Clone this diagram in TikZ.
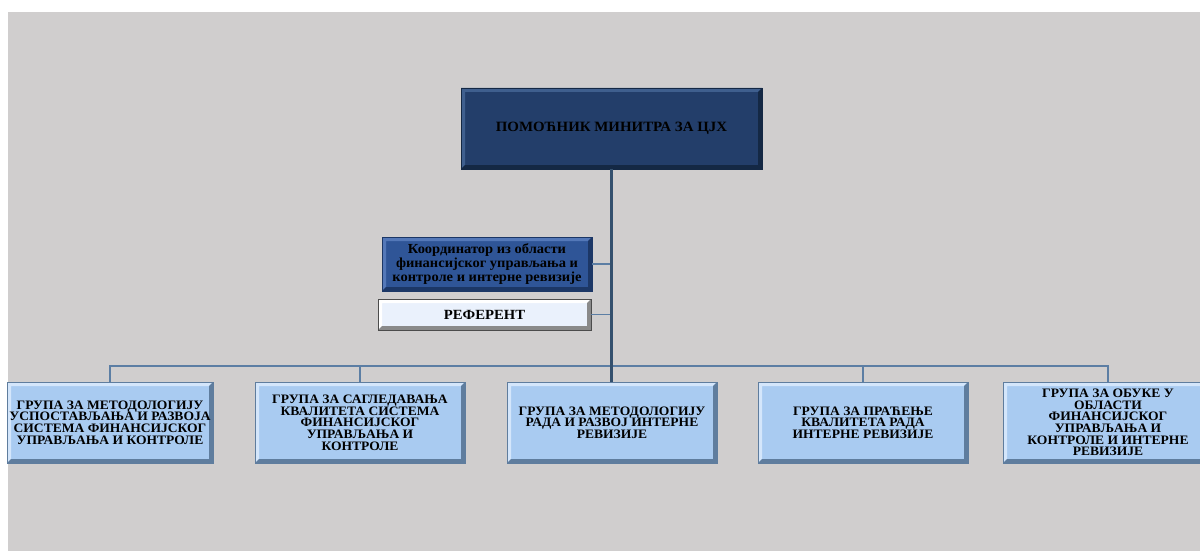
\documentclass[tikz,border=0pt]{standalone}
\usepackage{fontspec}
\setmainfont[FakeStretch=1.05]{Liberation Serif}
\usetikzlibrary{calc}
\definecolor{bggray}{HTML}{D0CECE}
\definecolor{navy}{HTML}{233E6A}
\definecolor{navyhi}{HTML}{3F5F8E}
\definecolor{navylo}{HTML}{142844}
\definecolor{midblue}{HTML}{2F5597}
\definecolor{midhi}{HTML}{5478B8}
\definecolor{midlo}{HTML}{1C3766}
\definecolor{paleblue}{HTML}{EAF1FC}
\definecolor{palehi}{HTML}{FFFFFF}
\definecolor{palelo}{HTML}{8A8A8A}
\definecolor{ltblue}{HTML}{A9CBF1}
\definecolor{lthi}{HTML}{D4E6FB}
\definecolor{ltlo}{HTML}{5F7D9E}
\definecolor{trunk}{HTML}{34506E}
\definecolor{branch}{HTML}{5C7EA4}
\tikzset{
  bevelbox/.style n args={4}{rectangle, fill=#1, draw=#4, line width=0.8pt,
    inner sep=0pt, align=center, font=\bfseries\fontsize{12.9}{11.7}\selectfont,
    path picture={
      \coordinate (pnw) at (path picture bounding box.north west);
      \coordinate (pne) at (path picture bounding box.north east);
      \coordinate (psw) at (path picture bounding box.south west);
      \coordinate (pse) at (path picture bounding box.south east);
      \fill[#2] (pnw) -- (pne) -- ([shift={(-4pt,-4pt)}]pne) -- ([shift={(4pt,-4pt)}]pnw)
        -- ([shift={(4pt,4pt)}]psw) -- (psw) -- cycle;
      \fill[#3] (pse) -- (pne) -- ([shift={(-4pt,-4pt)}]pne) -- ([shift={(-4pt,4pt)}]pse)
        -- ([shift={(4pt,4pt)}]psw) -- (psw) -- cycle;
    }},
  topbox/.style={bevelbox={navy}{navyhi}{navylo}{navylo}, minimum width=301pt, minimum height=81pt,
    font=\bfseries\fontsize{14.2}{14}\selectfont},
  coordbox/.style={bevelbox={midblue}{midhi}{midlo}{midlo}, minimum width=210pt, minimum height=54pt,
    font=\bfseries\fontsize{13.8}{12.3}\selectfont},
  refbox/.style={bevelbox={paleblue}{palehi}{palelo}{black!70}, minimum width=213pt, minimum height=31pt,
    font=\bfseries\fontsize{14}{13}\selectfont},
  groupbox/.style={bevelbox={ltblue}{lthi}{ltlo}{ltlo}, minimum width=210pt, minimum height=81pt},
  trunkline/.style={draw=trunk, line width=3pt},
  branchline/.style={draw=branch, line width=1.5pt},
}
\begin{document}
\begin{tikzpicture}[x=1pt,y=-1pt]
\useasboundingbox (0,0) rectangle (1200,551);
\fill[bggray] (8,12) rectangle (1200,551);
% nodes
\node[topbox] (top) at (611.5,128.5) {ПОМОЋНИК МИНИТРА ЗА ЦЈХ};
\node[coordbox] (coord) at (487,264) {Координатор из области\\финансијског управљања и\\контроле и интерне ревизије};
\node[refbox] (ref) at (484.5,314.5) {РЕФЕРЕНТ};
\node[groupbox, minimum width=206pt] (g1) at (110,422.5) {ГРУПА ЗА МЕТОДОЛОГИЈУ\\УСПОСТАВЉАЊА И РАЗВОЈА\\СИСТЕМА ФИНАНСИЈСКОГ\\УПРАВЉАЊА И КОНТРОЛЕ};
\node[groupbox] (g2) at (360,422.5) {ГРУПА ЗА САГЛЕДАВАЊА\\КВАЛИТЕТА СИСТЕМА\\ФИНАНСИЈСКОГ\\УПРАВЉАЊА И\\КОНТРОЛЕ};
\node[groupbox] (g3) at (612,422.5) {ГРУПА ЗА МЕТОДОЛОГИЈУ\\РАДА И РАЗВОЈ ИНТЕРНЕ\\РЕВИЗИЈЕ};
\node[groupbox] (g4) at (863,422.5) {ГРУПА ЗА ПРАЋЕЊЕ\\КВАЛИТЕТА РАДА\\ИНТЕРНЕ РЕВИЗИЈЕ};
\node[groupbox] (g5) at (1108,422.5) {ГРУПА ЗА ОБУКЕ У\\ОБЛАСТИ\\ФИНАНСИЈСКОГ\\УПРАВЉАЊА И\\КОНТРОЛЕ И ИНТЕРНЕ\\РЕВИЗИЈЕ};
% connectors
\coordinate (bus) at (611,366);
\draw[branchline] (g1.north) -- (g1.north |- bus) -- (g5.north |- bus) -- (g5.north);
\draw[branchline] (g2.north) -- (g2.north |- bus);
\draw[branchline] (g4.north) -- (g4.north |- bus);
\draw[branchline] (coord.east) -- (coord.east -| bus);
\draw[branchline] (ref.east) -- (ref.east -| bus);
\draw[trunkline] (top.south -| bus) -- (g3.north -| bus);
\end{tikzpicture}
\end{document}
